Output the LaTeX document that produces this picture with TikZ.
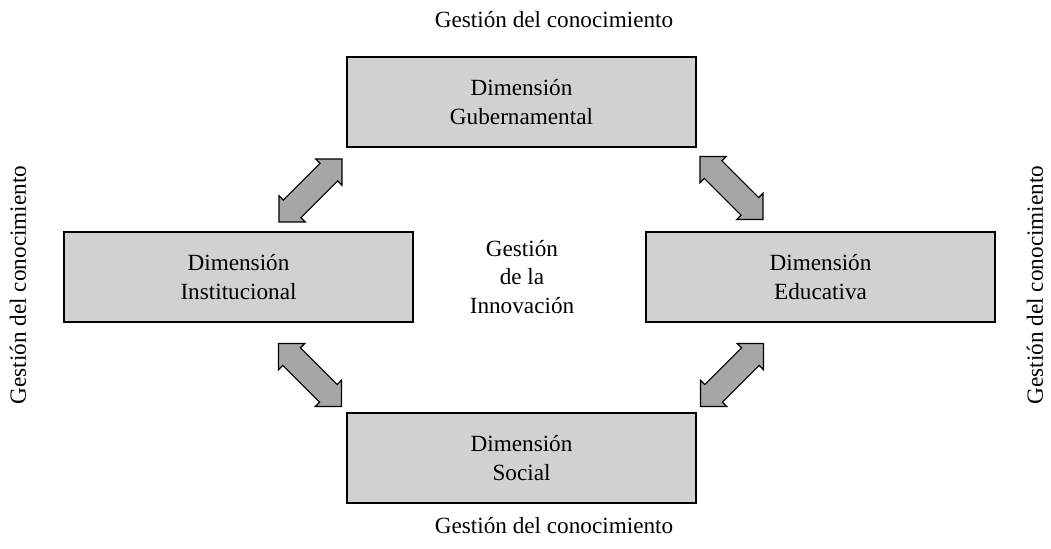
\documentclass[tikz,border=0pt]{standalone}
\usepackage{fontspec}
\setmainfont{Liberation Serif}
\usepackage{tikz}
\usetikzlibrary{calc,positioning}

\tikzset{
	dim/.style={draw,line width=1pt,fill=black!18,minimum width=8.725cm,minimum height=2.25cm,align=center,inner sep=0pt},
	lbl/.style={inner sep=0pt},
	dblarr/.pic={
		\draw[line width=0.8pt,fill=black!35,line join=miter]
			(-44.5,0) -- (-26,18.5) -- (-26,12.5) -- (26,12.5) -- (26,18.5) -- (44.5,0)
			-- (26,-18.5) -- (26,-12.5) -- (-26,-12.5) -- (-26,-18.5) -- cycle;
	}
}

\begin{document}
\begin{tikzpicture}[x=0.025cm,y=-0.025cm]
		\fontsize{16.5}{20}\selectfont
		\useasboundingbox (0,0) rectangle (1051,548);
		\begin{scope}
			\node(G) [dim] at (521.5,102) {Dimensión\\Gubernamental};
			\node(I) [dim] at (238.5,277) {Dimensión\\Institucional};
			\node(E) [dim] at (820.5,277) {Dimensión\\Educativa};
			\node(S) [dim] at (521.5,458) {Dimensión\\Social};
			\node(innov) [align=center] at (522,277) {Gestión\\de la\\Innovación};
			\node(top) [lbl] at (554,20) {Gestión del conocimiento};
			\node(bottom) [lbl] at (554,526) {Gestión del conocimiento};
			\node(left) [lbl,rotate=90] at (18,285) {Gestión del conocimiento};
			\node(right) [lbl,rotate=90] at (1035,285) {Gestión del conocimiento};
			\coordinate (a1) at (279,222); \coordinate (a2) at (342,159);
			\coordinate (b1) at (700,156); \coordinate (b2) at (763,220);
			\coordinate (c1) at (279,343); \coordinate (c2) at (341,407);
			\coordinate (d1) at (763,343); \coordinate (d2) at (701,407);
			\pic[rotate=45] at ($(a1)!0.5!(a2)$) {dblarr};
			\pic[rotate=-45] at ($(b1)!0.5!(b2)$) {dblarr};
			\pic[rotate=-45] at ($(c1)!0.5!(c2)$) {dblarr};
			\pic[rotate=45] at ($(d1)!0.5!(d2)$) {dblarr};
		\end{scope}
	\end{tikzpicture}
\end{document}
